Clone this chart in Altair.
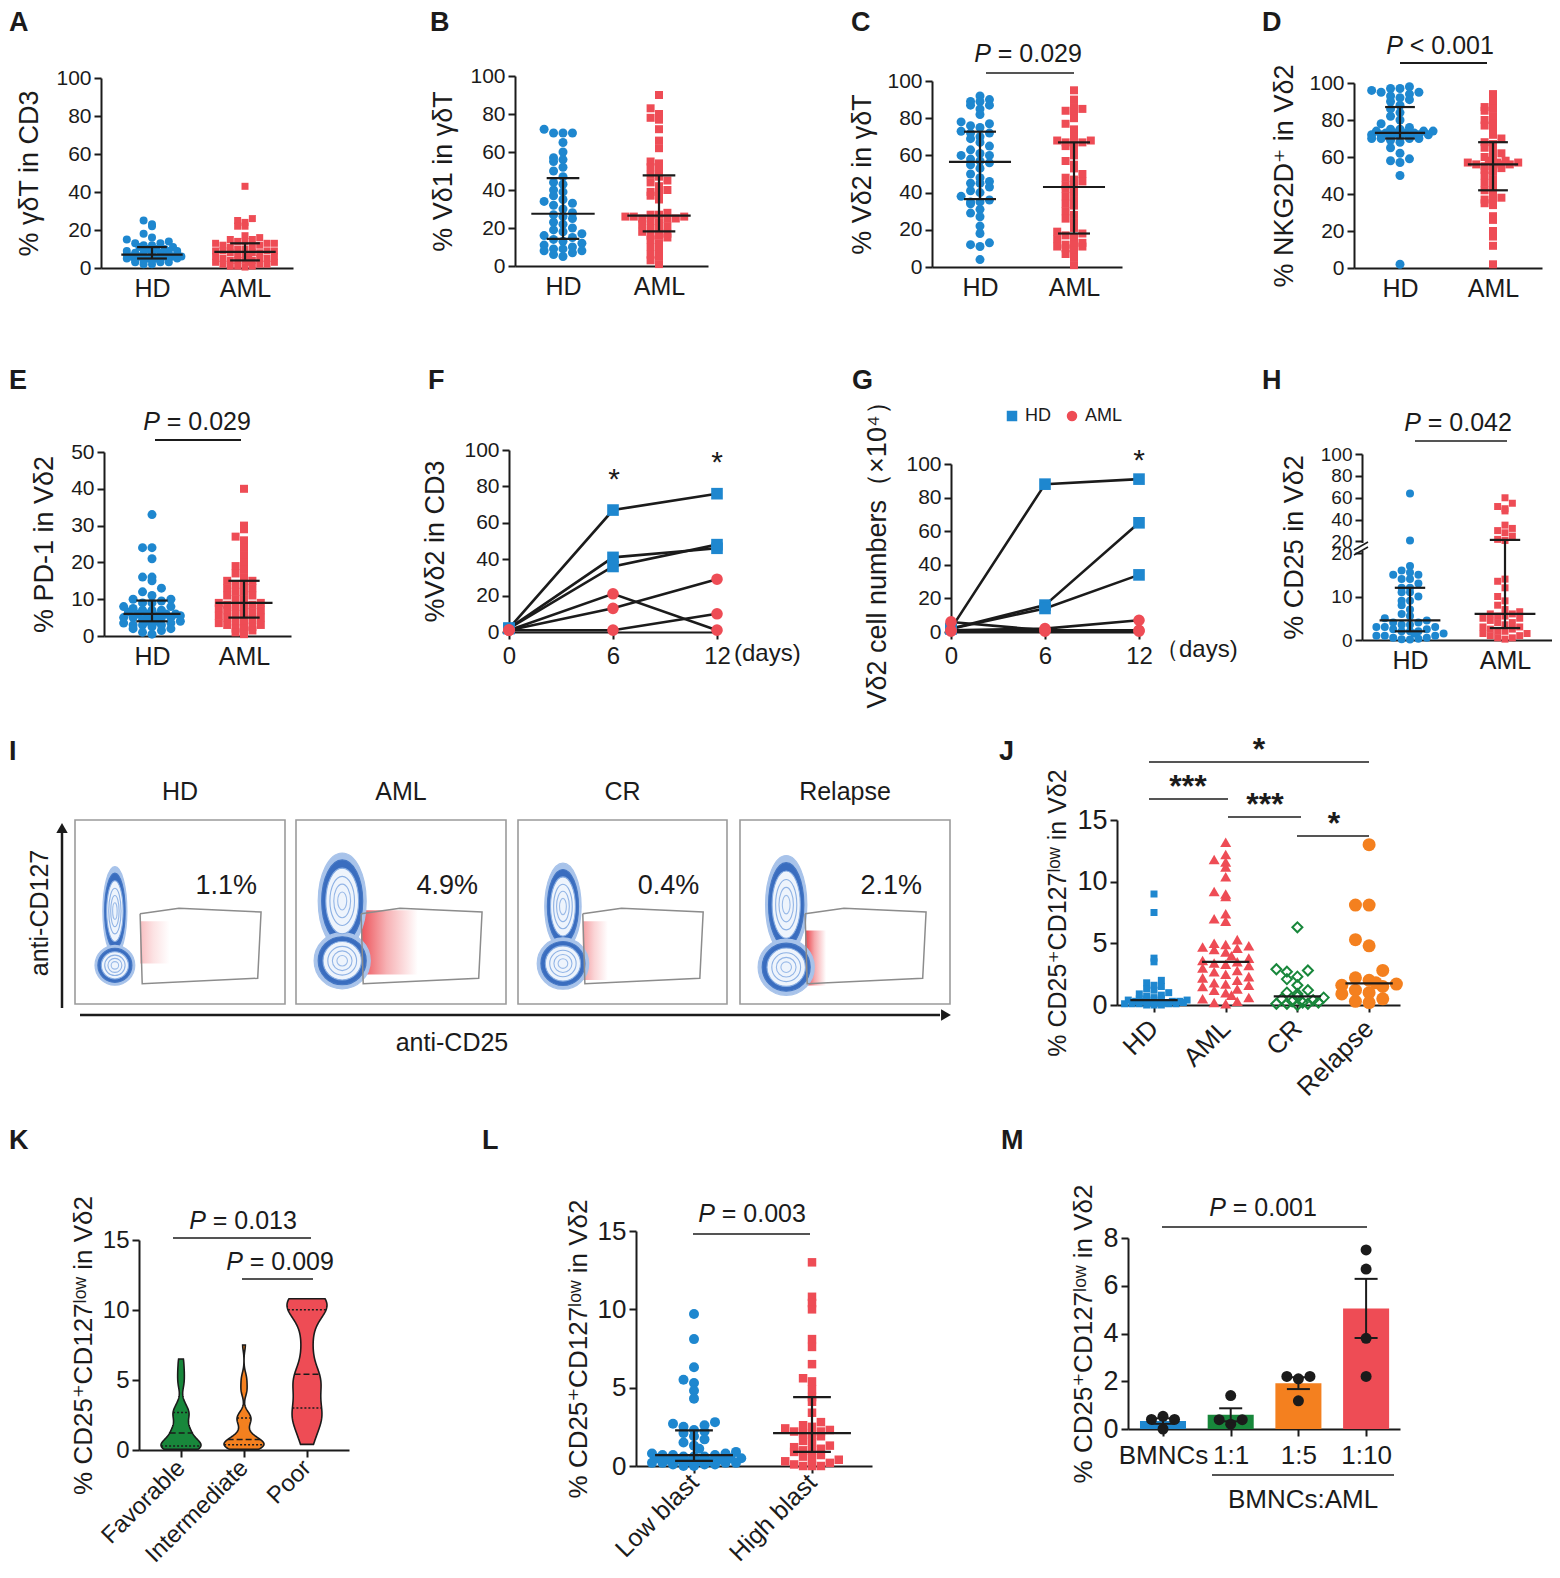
import altair as alt
import pandas as pd

# ======================= DATA =======================
CAT2 = ["HD", "AML"]

A_HD = [25, 23, 22, 18, 16, 15, 14, 13, 13, 12, 12, 11, 11, 10, 10, 10, 9, 9, 9, 8, 8, 8, 8,
        7, 7, 7, 7, 7, 7, 6, 6, 6, 6, 6, 5, 5, 5, 5, 5, 4, 4, 4, 4, 3, 3, 3, 2, 2]
A_AML = [43, 26, 25, 24, 22, 22, 17, 16, 15, 15, 14, 14, 13, 13, 13, 12, 12, 11, 11, 10, 10,
         9, 9, 9, 9, 8, 8, 8, 7, 7, 6, 6, 6, 5, 5, 5, 4, 4, 4, 4, 3, 3, 3, 2, 2, 2, 1, 1, 1, 0.5]

B_HD = [72, 70, 70, 70, 65, 60, 57, 56, 55, 52, 50, 47, 44, 43, 40, 39, 37, 35, 34, 33, 32, 30,
        28, 27, 26, 25, 23, 22, 20, 19, 18, 17, 16, 15, 14, 13, 12, 11, 10, 9, 9, 8, 8, 7, 6, 5]
B_AML = [90, 83, 80, 78, 77, 72, 66, 62, 55, 54, 52, 50, 48, 47, 45, 44, 42, 40, 39, 38, 37, 35,
         28, 27, 27, 26, 26, 26, 25, 25, 25, 24, 23, 22, 21, 20, 19, 18, 17, 16, 16, 15, 14, 12,
         10, 8, 6, 5, 3, 1]

C_HD = [92, 90, 89, 89, 87, 87, 85, 82, 78, 77, 76, 75, 73, 72, 72, 70, 69, 67, 65, 63, 61, 60,
        60, 58, 57, 56, 55, 53, 50, 48, 46, 45, 45, 43, 41, 40, 38, 36, 35, 35, 34, 31, 29, 27,
        22, 18, 13, 12, 11, 4]
C_AML = [95, 90, 86, 85, 84, 83, 80, 77, 74, 70, 68, 68, 67, 67, 66, 65, 62, 60, 57, 55, 53, 50,
         48, 47, 46, 44, 43, 42, 40, 38, 36, 34, 33, 30, 28, 26, 24, 21, 19, 18, 17, 16, 15, 13,
         12, 12, 11, 11, 10, 9, 7, 5, 1]

D_HD = [98, 97, 97, 96, 95, 95, 94, 93, 92, 91, 90, 88, 86, 84, 82, 80, 78, 76, 75, 75, 74, 74,
        74, 73, 73, 73, 73, 72, 72, 72, 72, 71, 71, 71, 70, 70, 70, 70, 69, 68, 65, 62, 59, 58,
        57, 50, 2]
D_AML = [94, 90, 87, 86, 85, 82, 80, 78, 77, 75, 72, 70, 68, 67, 65, 63, 62, 60, 59, 58, 58, 57,
         57, 57, 56, 56, 56, 55, 55, 54, 53, 52, 50, 48, 46, 44, 42, 40, 38, 37, 36, 35, 34, 28,
         26, 20, 17, 12, 2]

E_HD = [33, 24, 24, 21, 16, 16, 15, 13, 12, 11, 10, 10, 9.5, 9, 9, 8, 8, 7.5, 7, 7, 7, 6.5, 6, 6,
        6, 6, 5.5, 5.5, 5, 5, 5, 5, 4.5, 4.5, 4, 4, 4, 3.5, 3.5, 3, 3, 3, 2.5, 2, 2, 1.5, 1, 0.5]
E_AML = [40, 30, 29, 27, 26, 24, 22, 20, 19, 18, 17, 16, 15, 15, 14, 14, 13, 13, 12, 12, 11, 11,
         10, 10, 9, 9, 8.5, 8.5, 8, 8, 7.5, 7, 7, 6.5, 6, 6, 5.5, 5, 5, 4.5, 4, 4, 3.5, 3, 3, 2.5,
         2, 2, 1.5, 1, 0.5]

F_DAYS = [0, 6, 12]
F_HD = [[2, 67, 76], [2, 41, 46], [2, 36, 48]]
F_AML = [[1, 21, 1], [1, 13, 29], [1, 1, 10]]

G_DAYS = [0, 6, 12]
G_HD = [[2, 88, 91], [2, 16, 65], [2, 14, 34]]
G_AML = [[6, 1, 1], [1, 2, 7], [0.5, 0.5, 0.5]]

H_HD = [64, 21, 17, 16, 15.5, 15, 15, 14, 14, 13, 12, 12, 11, 11, 10, 9, 9, 8, 7, 6, 5.5, 5, 4.5,
        4, 4, 3.5, 3.5, 3, 3, 3, 2.5, 2.5, 2, 2, 2, 1.5, 1.5, 1, 1, 1, 0.5, 0.5, 0.3, 0.2, 0.1]
H_AML = [60, 55, 52, 50, 48, 35, 32, 30, 28, 25, 22, 21, 14, 13.5, 12, 10, 9, 8, 7, 6.5, 6, 6,
         5.5, 5.5, 5, 5, 4.5, 4, 4, 3.5, 3, 3, 2.5, 2.5, 2, 2, 1.5, 1.5, 1, 1, 0.5, 0.5, 0.2]

I_TITLES = ["HD", "AML", "CR", "Relapse"]
I_PCT = ["1.1%", "4.9%", "0.4%", "2.1%"]
# contour blob per sample (fractions of the plot box; lobe sizes in px)
BLOB_CX = [0.19, 0.22, 0.215, 0.22]
BLOB_UY = [0.495, 0.44, 0.47, 0.46]
BLOB_UH = [38, 41, 37, 42]
BLOB_ASP = [0.27, 0.5, 0.42, 0.42]
BLOB_LY = [0.79, 0.765, 0.78, 0.80]
BLOB_LR = [17, 24, 22, 24]
LEVEL_NAMES = ["halo", "dense", "c1", "c2", "c3", "c4"]
LEVEL_SCALE = [1.17, 1.0, 0.80, 0.60, 0.41, 0.22]
# CD25+ (red) event cloud per sample
RED_X1 = [0.31, 0.31, 0.31, 0.31]
RED_X2 = [0.45, 0.58, 0.43, 0.41]
RED_Y1 = [0.55, 0.49, 0.55, 0.60]
RED_Y2 = [0.78, 0.84, 0.87, 0.90]
RED_ALPHA = [0.30, 0.80, 0.45, 0.90]
# gate polygon
GATE_X = [0.31, 0.495, 0.886, 0.87, 0.32, 0.31]
GATE_Y = [0.51, 0.48, 0.50, 0.86, 0.89, 0.51]

J_CATS = ["HD", "AML", "CR", "Relapse"]
J_HD = [9, 7.5, 3.8, 3.5, 2, 1.8, 1.6, 1.5, 1.3, 1.2, 1, 0.9, 0.8, 0.7, 0.6, 0.5, 0.5, 0.5, 0.4,
        0.4, 0.4, 0.3, 0.3, 0.3, 0.3, 0.2, 0.2, 0.2, 0.2, 0.1, 0.1, 0.1, 0.1, 0.1, 0, 0, 0]
J_AML = [13.2, 12.2, 11.8, 11.6, 11.2, 10.4, 9.2, 9, 8.8, 7.4, 7, 6.8, 5.3, 5, 4.9, 4.8, 4.7, 4.6,
         4.5, 4.3, 4, 3.8, 3.6, 3.5, 3.4, 3.3, 3.2, 3, 2.8, 2.7, 2.5, 2.3, 2.2, 2, 1.8, 1.7, 1.6,
         1.5, 1.3, 1.2, 1, 0.8, 0.6, 0.5, 0.3, 0.2, 0.1]
J_CR = [6.3, 2.9, 2.8, 2.7, 2.3, 2.1, 1.6, 1.2, 1, 0.9, 0.7, 0.6, 0.5, 0.4, 0.3, 0.2, 0.2, 0.1,
        0.1, 0.1, 0]
J_REL = [13, 8.1, 8.1, 5.3, 4.8, 2.8, 2.2, 2, 1.8, 1.7, 1.6, 1.5, 1.2, 1, 0.9, 0.5, 0.3, 0.2]

K_CATS = ["Favorable", "Intermediate", "Poor"]
K_FAV = [6.5, 5.8, 5.2, 4.6, 3.4, 2.9, 2.7, 2.6, 2.4, 2.0, 1.6, 1.4, 1.3, 1.1, 0.9, 0.7, 0.5, 0.4,
         0.3, 0.3, 0.25, 0.2, 0.2, 0.15, 0.1, 0.05]
K_INT = [7.5, 5.3, 4.9, 4.4, 4.1, 2.6, 2.4, 2.3, 2.2, 2.1, 1.8, 1.4, 1.1, 0.9, 0.8, 0.7, 0.6, 0.6,
         0.5, 0.5, 0.4, 0.4, 0.35, 0.3, 0.3, 0.25, 0.2, 0.15, 0.1, 0.05]
K_POOR = [10.8, 10.7, 10.5, 10.3, 10.2, 9.6, 8.4, 7.0, 5.6, 5.2, 4.8, 4.2, 3.5, 2.8, 2.3, 2.2,
          1.4, 0.4]

L_CATS = ["Low blast", "High blast"]
L_LOW = [9.7, 8.1, 6.3, 5.5, 5.3, 4.8, 4.3, 2.8, 2.7, 2.6, 2.5, 2.3, 2.2, 2.1, 1.9, 1.7, 1.5, 1.3,
         1.1, 0.9, 0.8, 0.8, 0.7, 0.7, 0.7, 0.6, 0.6, 0.6, 0.5, 0.5, 0.5, 0.4, 0.4, 0.4, 0.3, 0.3,
         0.3, 0.2, 0.2, 0.2, 0.2, 0.1, 0.1, 0.1, 0, 0]
L_HIGH = [13, 10.8, 10.4, 10, 8.1, 7.6, 6.5, 5.6, 5.4, 4.9, 4.4, 4.1, 3.4, 2.8, 2.6, 2.5, 2.4,
          2.3, 2.2, 2.2, 2.1, 2, 1.9, 1.6, 1.5, 1.3, 1.2, 1.1, 1, 1, 0.9, 0.7, 0.6, 0.5, 0.4, 0.3,
          0.2, 0.1, 0, 0, 0]

M_CATS = ["BMNCs", "1:1", "1:5", "1:10"]
M_VALS = [[0.4, 0.53, 0.4, 0.0], [0.2, 0.39, 0.39, 1.4], [2.2, 2.2, 2.1, 1.18], [7.5, 6.7, 3.8, 2.2]]

T_CD25 = "% CD25⁺CD127ˡᵒʷ in Vδ2"

# ======================= STYLE / LAYOUT =======================
W, H = 1544, 1562
OFF = 8


def cx(v):
    return v - OFF


def cy(v):
    return v - OFF


REG = "Liberation Sans, Arial, Helvetica, DejaVu Sans, sans-serif"
INK = "#1b1b1b"
BLUE = "#1e87cf"
RED = "#ee4c55"
GREEN = "#18873b"
ORANGE = "#f4801f"

ONE = pd.DataFrame({"t": [""]})


def lin(dom, rng):
    return alt.Scale(domain=dom, range=rng, nice=False, zero=False)


def text(s, x, y, size, font=REG, align="center", baseline="middle", weight="normal",
         style="normal", angle=0, color=INK):
    return alt.Chart(pd.DataFrame({"t": [s]})).mark_text(
        align=align, baseline=baseline, font=font, fontSize=size, fontWeight=weight,
        fontStyle=style, angle=angle, color=color
    ).encode(text="t:N", x=alt.value(cx(x)), y=alt.value(cy(y)))


def seg(x1, y1, x2, y2, color=INK, width=2):
    return alt.Chart(ONE).mark_rule(color=color, strokeWidth=width).encode(
        x=alt.value(cx(x1)), y=alt.value(cy(y1)), x2=alt.value(cx(x2)), y2=alt.value(cy(y2)))


CHW = {" ": 0.278, "=": 0.584, "<": 0.584, ".": 0.278}


def pvalue(rest, x, y, size, font=REG):
    pw = 0.667 * size
    gap = 0.278 * size
    rw = sum(CHW.get(c, 0.556) for c in rest) * size
    x0 = x - (pw + gap + rw) / 2
    return [text("P", x0, y, size, font, align="left", style="italic"),
            text(rest, x0 + pw + gap, y, size, font, align="left")]


def yaxis(xref, title, values, tsize, hsize, pad=10, expr=None, ticks=True):
    kw = dict(orient="left", offset=-cx(xref), values=values, title=title, grid=False,
              labelFont=REG, labelFontSize=tsize, labelColor=INK, labelPadding=3,
              titleFont=REG, titleFontSize=hsize, titleFontWeight="normal", titleColor=INK,
              titlePadding=pad, titleLimit=3000, labelLimit=1000,
              domainColor=INK, domainWidth=2, ticks=ticks, tickColor=INK, tickWidth=2,
              tickSize=7, labelOverlap=False, labelFlush=False)
    if expr:
        kw["labelExpr"] = expr
    return alt.Axis(**kw)


def xaxis(yref, values, labels, size, angle=0, ticks=False, pad=8, numeric=False):
    kw = dict(orient="bottom", offset=cy(yref) - H, values=values, title=None, grid=False,
              labelFont=REG, labelFontSize=size, labelColor=INK, labelPadding=pad,
              labelAngle=angle, domainColor=INK, domainWidth=2, ticks=ticks, tickColor=INK,
              tickWidth=2, tickSize=7, labelOverlap=False, labelFlush=False, labelLimit=1000)
    if angle != 0:
        kw["labelAlign"] = "right"
        kw["labelBaseline"] = "middle"
    if not numeric:
        kw["labelExpr"] = "[" + ",".join("'" + s + "'" for s in labels) + "][datum.value]"
    return alt.Axis(**kw)


def make_df(names, lists):
    rows = []
    for i, (n, vals) in enumerate(zip(names, lists)):
        for v in vals:
            rows.append({"g": i, "grp": n, "v": float(v)})
    return pd.DataFrame(rows)


def swarm(df, gi, xs, ys, xax, yax, style, sp, pxu, half, binexpr=None):
    shape, color, dpx, filled = style
    step = dpx * 1.05 / sp
    maxn = 2 * max(1, int(half / step)) + 1
    be = binexpr or f"floor(datum.v / {dpx * 0.9 / pxu})"
    ch = (alt.Chart(df)
          .transform_filter(f"datum.g == {gi}")
          .transform_calculate(b=be)
          .transform_window(k="row_number()", groupby=["b"],
                            sort=[alt.SortField("v", order="ascending")])
          .transform_calculate(j=f"(datum.k - 1) % {maxn} + 1",
                               r=f"floor((datum.k - 1) / {maxn})")
          .transform_calculate(
              xp=f"datum.g + (datum.j % 2 == 0 ? -1 : 1) * floor(datum.j / 2) * {step}"
                 f" + (datum.r % 2) * {step / 2}"))
    if filled:
        m = ch.mark_point(shape=shape, filled=True, fill=color, size=dpx * dpx, opacity=1,
                          strokeWidth=0)
    else:
        m = ch.mark_point(shape=shape, filled=False, stroke=color, size=dpx * dpx, opacity=1,
                          strokeWidth=2)
    return m.encode(x=alt.X("xp:Q", scale=xs, axis=xax), y=alt.Y("v:Q", scale=ys, axis=yax))


def summary(df, xs, ys, xax, yax, med_hw, cap_hw, iqr=True, lw=2.2):
    agg = (alt.Chart(df)
           .transform_aggregate(med="median(v)", q1="q1(v)", q3="q3(v)", groupby=["g"])
           .transform_calculate(ml=f"datum.g - {med_hw}", mr=f"datum.g + {med_hw}",
                                cl=f"datum.g - {cap_hw}", cr=f"datum.g + {cap_hw}"))

    def r():
        return agg.mark_rule(color=INK, strokeWidth=lw)
    out = [r().encode(x=alt.X("ml:Q", scale=xs, axis=xax), x2="mr:Q",
                      y=alt.Y("med:Q", scale=ys, axis=yax))]
    if iqr:
        out.append(r().encode(x=alt.X("g:Q", scale=xs, axis=xax),
                              y=alt.Y("q1:Q", scale=ys, axis=yax), y2="q3:Q"))
        out.append(r().encode(x=alt.X("cl:Q", scale=xs, axis=xax), x2="cr:Q",
                              y=alt.Y("q1:Q", scale=ys, axis=yax)))
        out.append(r().encode(x=alt.X("cl:Q", scale=xs, axis=xax), x2="cr:Q",
                              y=alt.Y("q3:Q", scale=ys, axis=yax)))
    return out


def dot_panel(cats, lists, styles, ax, end, c0, sp, ys, pxu, xax, yax, med_hw, cap_hw,
              iqr=True, half=0.36, binexprs=None):
    df = make_df(cats, lists)
    xs = lin([-(c0 - ax) / sp, (end - c0) / sp], [cx(ax), cx(end)])
    layers = []
    for gi, st in enumerate(styles):
        be = binexprs[gi] if binexprs else None
        layers.append(swarm(df, gi, xs, ys, xax, yax, st, sp, pxu, half, be))
    layers += summary(df, xs, ys, xax, yax, med_hw, cap_hw, iqr)
    return alt.layer(*layers)


children = []

# ---------- panel letters ----------
for letter, lx, ly in [("A", 9, 23), ("B", 430, 23), ("C", 851, 23), ("D", 1262, 23),
                       ("E", 9, 381), ("F", 428, 381), ("G", 852, 381), ("H", 1262, 381),
                       ("I", 9, 752), ("J", 999, 752), ("K", 9, 1141), ("L", 482, 1141),
                       ("M", 1001, 1141)]:
    children.append(text(letter, lx, ly, 27, REG, align="left", weight="bold"))

TOP_STY = [("circle", BLUE, 9, True), ("square", RED, 8, True)]
Y100 = [0, 20, 40, 60, 80, 100]
TK, TT, TC, TP = 21, 27, 25, 25   # tick, title, category, p-value font sizes (rows 1-2)

# ---------- A ----------
ysA = lin([0, 100], [cy(268), cy(78)])
children.append(dot_panel(
    CAT2, [A_HD, A_AML], [("circle", BLUE, 8, True), ("square", RED, 7, True)],
    ax=101, end=293, c0=152, sp=93, ys=ysA, pxu=1.9,
    xax=xaxis(268, [0, 1], CAT2, TC), yax=yaxis(101, "% γδT in CD3", Y100, TK, TT, pad=12),
    med_hw=0.33, cap_hw=0.16))

# ---------- B ----------
ysB = lin([0, 100], [cy(266), cy(76)])
children.append(dot_panel(
    CAT2, [B_HD, B_AML], TOP_STY, ax=515, end=708, c0=563, sp=96, ys=ysB, pxu=1.9,
    xax=xaxis(266, [0, 1], CAT2, TC), yax=yaxis(515, "% Vδ1 in γδT", Y100, TK, TT, pad=12),
    med_hw=0.33, cap_hw=0.17))

# ---------- C ----------
ysC = lin([0, 100], [cy(267), cy(81)])
children.append(dot_panel(
    CAT2, [C_HD, C_AML], TOP_STY, ax=932, end=1122, c0=980, sp=94, ys=ysC, pxu=1.86,
    xax=xaxis(267, [0, 1], CAT2, TC), yax=yaxis(932, "% Vδ2 in γδT", Y100, TK, TT, pad=10),
    med_hw=0.33, cap_hw=0.17))
children += pvalue("= 0.029", 1028, 54, TP)
children.append(seg(986, 73, 1074, 73, "#555", 2))

# ---------- D ----------
ysD = lin([0, 100], [cy(268), cy(83)])
children.append(dot_panel(
    CAT2, [D_HD, D_AML], TOP_STY, ax=1354, end=1542, c0=1400, sp=93, ys=ysD, pxu=1.85,
    xax=xaxis(268, [0, 1], CAT2, TC), yax=yaxis(1354, "% NKG2D⁺ in Vδ2", Y100, TK, TT, pad=10),
    med_hw=0.27, cap_hw=0.16))
children += pvalue("< 0.001", 1440, 46, TP)
children.append(seg(1400, 63, 1487, 63, INK, 2))

# ---------- E ----------
ysE = lin([0, 50], [cy(636), cy(452)])
children.append(dot_panel(
    CAT2, [E_HD, E_AML], TOP_STY, ax=104, end=291, c0=152, sp=92, ys=ysE, pxu=3.7,
    xax=xaxis(636, [0, 1], CAT2, TC), yax=yaxis(104, "% PD-1 in Vδ2", [0, 10, 20, 30, 40, 50], TK, TT, pad=12),
    med_hw=0.31, cap_hw=0.17))
children += pvalue("= 0.029", 197, 422, TP)
children.append(seg(155, 440, 241, 440, INK, 2))


# ---------- F / G (time courses) ----------
def line_panel(days, hd, aml, ax, x12, y0, ytop, title, legend=None, tpad=10):
    rows = []
    for gname, sets in (("HD", hd), ("AML", aml)):
        for si, vals in enumerate(sets):
            for d, v in zip(days, vals):
                rows.append({"sid": f"{gname}{si}", "grp": gname, "day": d, "v": v})
    df = pd.DataFrame(rows)
    xs = lin([0, 12], [cx(ax), cx(x12)])
    ys = lin([0, 100], [cy(y0), cy(ytop)])
    xax = xaxis(y0, [0, 6, 12], None, 24, ticks=True, pad=5, numeric=True)
    yax = yaxis(ax, title, Y100, TK, TT, pad=tpad)
    ln = alt.Chart(df).mark_line(color=INK, strokeWidth=2.6).encode(
        x=alt.X("day:Q", scale=xs, axis=xax), y=alt.Y("v:Q", scale=ys, axis=yax), detail="sid:N")
    pts = alt.Chart(df).mark_point(filled=True, size=135, opacity=1, strokeWidth=0).encode(
        x=alt.X("day:Q", scale=xs, axis=xax), y=alt.Y("v:Q", scale=ys, axis=yax),
        color=alt.Color("grp:N", scale=alt.Scale(domain=CAT2, range=[BLUE, RED]), legend=legend),
        shape=alt.Shape("grp:N", scale=alt.Scale(domain=CAT2, range=["square", "circle"]), legend=legend))
    return alt.layer(ln, pts)


children.append(line_panel(F_DAYS, F_HD, F_AML, 509, 717, 632, 450, "%Vδ2 in CD3", tpad=14))
children.append(text("*", 614, 480, 30))
children.append(text("*", 717, 463, 30))
children.append(text("(days)", 734, 654, 24, align="left"))

legG = alt.Legend(orient="none", legendX=cx(1003), legendY=cy(407), direction="horizontal",
                  title=None, labelFont=REG, labelFontSize=18, labelColor=INK, symbolSize=110,
                  symbolStrokeWidth=0, columnPadding=12)
children.append(line_panel(G_DAYS, G_HD, G_AML, 951, 1139, 632, 464, "Vδ2 cell numbers（×10⁴）", legG, tpad=14))
children.append(text("*", 1139, 461, 30))
children.append(text("（days)", 1155, 650, 24, align="left"))

# ---------- H (broken axis) ----------
ysH = alt.Scale(domain=[0, 20, 20.5, 100], range=[cy(640), cy(553), cy(541), cy(454)],
                nice=False, zero=False)
H_BIN = ["datum.v <= 20 ? floor(datum.v / 1.7) : 100 + floor(datum.v / 7)"] * 2
children.append(dot_panel(
    CAT2, [H_HD, H_AML], [("circle", BLUE, 8, True), ("square", RED, 7, True)],
    ax=1362, end=1552, c0=1410, sp=95, ys=ysH, pxu=4.3,
    xax=xaxis(640, [0, 1], CAT2, TC),
    yax=yaxis(1362, "% CD25 in  Vδ2", [0, 10, 20, 20.5, 40, 60, 80, 100], 19, TT, pad=12,
              expr="datum.value == 20.5 ? '20' : datum.label"),
    med_hw=0.32, cap_hw=0.16, binexprs=H_BIN))
children.append(seg(1362, 543, 1362, 551, "white", 5))
children.append(seg(1354, 550, 1368, 542, INK, 1.5))
children.append(seg(1354, 555, 1368, 547, INK, 1.5))
children += pvalue("= 0.042", 1458, 423, TP)
children.append(seg(1415, 441, 1507, 441, "#555", 2))

# ---------- I (flow cytometry plots) ----------
BOX_L = [75, 296, 518, 740]
BOX_R = [285, 506, 727, 950]
BOX_T, BOX_B = 820, 1004
LV_FILL = ["#a8c3ea", "#3a6dbf", "#eef4fc", "transparent", "transparent", "transparent"]
LV_STROKE = ["#a8c3ea", "#4577c4", "#86ace2", "#8db1e4", "#93b5e6", "#9bbbe8"]


def ellipse_path(a):
    return f"M0,-1A{a},1,0,1,1,0,1A{a},1,0,1,1,0,-1Z"


for b in range(4):
    L, R = BOX_L[b], BOX_R[b]
    xs = lin([0, 1], [cx(L), cx(R)])
    ys = lin([0, 1], [cy(BOX_T), cy(BOX_B)])
    frame = alt.Chart(ONE).mark_rect(fill="white", stroke="#9b9b9b", strokeWidth=1.6).encode(
        x=alt.XDatum(0, scale=xs, axis=None), x2=alt.X2Datum(1),
        y=alt.YDatum(0, scale=ys, axis=None), y2=alt.Y2Datum(1))
    grad = alt.LinearGradient(
        gradient="linear", x1=0, x2=1, y1=0, y2=0,
        stops=[alt.GradientStop(color=f"rgba(232,40,48,{RED_ALPHA[b]})", offset=0),
               alt.GradientStop(color=f"rgba(232,40,48,{RED_ALPHA[b] * 0.45})", offset=0.45),
               alt.GradientStop(color="rgba(232,40,48,0)", offset=1)])
    cloud = alt.Chart(ONE).mark_rect(fill=grad).encode(
        x=alt.XDatum(RED_X1[b], scale=xs, axis=None), x2=alt.X2Datum(RED_X2[b]),
        y=alt.YDatum(RED_Y1[b], scale=ys, axis=None), y2=alt.Y2Datum(RED_Y2[b]))
    up_rows, lo_rows = [], []
    for o, (lv, s) in enumerate(zip(LEVEL_NAMES, LEVEL_SCALE)):
        up_rows.append({"o": o, "lvl": lv, "x": BLOB_CX[b], "y": BLOB_UY[b],
                        "sz": (2 * BLOB_UH[b] * s) ** 2})
        lo_rows.append({"o": o, "lvl": lv, "x": BLOB_CX[b], "y": BLOB_LY[b],
                        "sz": (2 * BLOB_LR[b] * s) ** 2})
    enc = dict(x=alt.X("x:Q", scale=xs, axis=None), y=alt.Y("y:Q", scale=ys, axis=None),
               size=alt.Size("sz:Q", scale=None),
               fill=alt.Fill("lvl:N", scale=alt.Scale(domain=LEVEL_NAMES, range=LV_FILL), legend=None),
               stroke=alt.Stroke("lvl:N", scale=alt.Scale(domain=LEVEL_NAMES, range=LV_STROKE), legend=None),
               order=alt.Order("o:Q"))
    dfu, dfl = pd.DataFrame(up_rows), pd.DataFrame(lo_rows)
    up_dense = alt.Chart(dfu).transform_filter("datum.o <= 1").mark_point(
        shape=ellipse_path(BLOB_ASP[b]), filled=True, opacity=1, strokeWidth=1.2).encode(**enc)
    lo_dense = alt.Chart(dfl).transform_filter("datum.o <= 1").mark_point(
        shape="circle", filled=True, opacity=1, strokeWidth=1.2).encode(**enc)
    up_rings = alt.Chart(dfu).transform_filter("datum.o >= 2").mark_point(
        shape=ellipse_path(BLOB_ASP[b]), filled=True, opacity=1, strokeWidth=1.1).encode(**enc)
    lo_rings = alt.Chart(dfl).transform_filter("datum.o >= 2").mark_point(
        shape="circle", filled=True, opacity=1, strokeWidth=1.1).encode(**enc)
    gate = alt.Chart(pd.DataFrame({"i": list(range(len(GATE_X))), "gx": GATE_X, "gy": GATE_Y})).mark_line(
        color="#8c8c8c", strokeWidth=1.5).encode(
        x=alt.X("gx:Q", scale=xs, axis=None), y=alt.Y("gy:Q", scale=ys, axis=None), order="i:Q")
    children.append(alt.layer(frame, cloud, up_dense, lo_dense, up_rings, lo_rings, gate))
    children.append(text(I_PCT[b], L + 0.72 * (R - L), BOX_T + 0.36 * (BOX_B - BOX_T), 27, REG))
    children.append(text(I_TITLES[b], (L + R) / 2, 792, 25, REG))

children.append(seg(62, 1008, 62, 832, INK, 2.5))
children.append(alt.Chart(ONE).mark_point(shape="triangle-up", filled=True, color=INK, size=130, opacity=1).encode(
    x=alt.value(cx(62)), y=alt.value(cy(828))))
children.append(seg(80, 1015, 940, 1015, INK, 2.5))
children.append(alt.Chart(ONE).mark_point(shape="triangle-right", filled=True, color=INK, size=130, opacity=1).encode(
    x=alt.value(cx(946)), y=alt.value(cy(1015))))
children.append(text("anti-CD127", 40, 913, 25, REG, angle=270))
children.append(text("anti-CD25", 452, 1043, 25, REG))

# ---------- J ----------
ysJ = lin([0, 15], [cy(1005), cy(820)])
children.append(dot_panel(
    J_CATS, [J_HD, J_AML, J_CR, J_REL],
    [("square", BLUE, 7, True), ("triangle-up", RED, 11, True), ("diamond", GREEN, 10, False),
     ("circle", ORANGE, 13, True)],
    ax=1117, end=1400, c0=1154, sp=71.7, ys=ysJ, pxu=12.3,
    xax=xaxis(1005, [0, 1, 2, 3], J_CATS, 26, angle=-45, ticks=True, pad=12),
    yax=yaxis(1117, T_CD25, [0, 5, 10, 15], 27, 25, pad=6),
    med_hw=0.33, cap_hw=0.15, iqr=False, half=0.42))
children.append(text("*", 1259, 750, 32, REG, weight="bold"))
children.append(seg(1149, 762, 1369, 762, "#555", 1.8))
children.append(text("***", 1188, 787, 32, REG, weight="bold"))
children.append(seg(1149, 799, 1228, 799, "#555", 1.8))
children.append(text("***", 1265, 805, 32, REG, weight="bold"))
children.append(seg(1228, 817, 1301, 817, "#555", 1.8))
children.append(text("*", 1334, 824, 32, REG, weight="bold"))
children.append(seg(1297, 836, 1369, 836, "#555", 1.8))

# ---------- K (violins) ----------
dfK = make_df(K_CATS, [K_FAV, K_INT, K_POOR])
xsK = lin([-(181 - 139) / 63, (349 - 181) / 63], [cx(139), cx(349)])
ysK = lin([0, 15], [cy(1450), cy(1240)])
yaxK = yaxis(139, T_CD25, [0, 5, 10, 15], 24, 26, pad=6)
xaxK = xaxis(1450, [0, 1, 2], K_CATS, 24, angle=-45, ticks=True, pad=7)
hwK = 20 / 63
k_layers = []
for gi, (vals, col, bw) in enumerate(zip([K_FAV, K_INT, K_POOR], [GREEN, ORANGE, RED], [0.45, 0.4, 0.9])):
    base = (alt.Chart(dfK).transform_filter(f"datum.g == {gi}")
            .transform_joinaggregate(q1="q1(v)", med="median(v)", q3="q3(v)")
            .transform_density("v", as_=["v", "d"], extent=[min(vals), max(vals)], bandwidth=bw,
                               steps=160, groupby=["q1", "med", "q3"])
            .transform_joinaggregate(dm="max(d)")
            .transform_calculate(xl=f"{gi} - datum.d / datum.dm * {hwK}",
                                 xr=f"{gi} + datum.d / datum.dm * {hwK}"))
    k_layers.append(base.mark_area(orient="horizontal", fill=col, stroke=INK, strokeWidth=1.6,
                                   opacity=1).encode(
        y=alt.Y("v:Q", scale=ysK, axis=yaxK), x=alt.X("xl:Q", scale=xsK, axis=xaxK), x2="xr:Q"))
    for q, dash in (("q1", [2, 2]), ("med", [6, 3]), ("q3", [2, 2])):
        k_layers.append(base.transform_calculate(dd=f"abs(datum.v - datum.{q})")
                        .transform_window(rk="row_number()", sort=[alt.SortField("dd")])
                        .transform_filter("datum.rk == 1")
                        .mark_rule(color=INK, strokeWidth=1.5, strokeDash=dash)
                        .encode(x=alt.X("xl:Q", scale=xsK, axis=xaxK), x2="xr:Q",
                                y=alt.Y("v:Q", scale=ysK, axis=yaxK)))
children.append(alt.layer(*k_layers))
children += pvalue("= 0.013", 243, 1221, 25, REG)
children.append(seg(173, 1238, 311, 1238, INK, 1.6))
children += pvalue("= 0.009", 280, 1262, 25, REG)
children.append(seg(242, 1279, 313, 1279, INK, 1.6))

# ---------- L ----------
ysL = lin([0, 15], [cy(1466), cy(1231)])
children.append(dot_panel(
    L_CATS, [L_LOW, L_HIGH], [("circle", BLUE, 10, True), ("square", RED, 8.5, True)],
    ax=636, end=872, c0=694, sp=118, ys=ysL, pxu=15.7,
    xax=xaxis(1466, [0, 1], L_CATS, 25, angle=-45, ticks=True, pad=5),
    yax=yaxis(636, T_CD25, [0, 5, 10, 15], 26, 26, pad=6),
    med_hw=0.33, cap_hw=0.16, half=0.38))
children += pvalue("= 0.003", 752, 1214, 25, REG)
children.append(seg(693, 1234, 810, 1234, INK, 1.6))

# ---------- M (bars) ----------
dfM = make_df(M_CATS, M_VALS)
spM = 67.7
xsM = lin([-(1163 - 1128) / spM, (1400 - 1163) / spM], [cx(1128), cx(1400)])
ysM = lin([0, 8], [cy(1429), cy(1238)])
yaxM = yaxis(1128, T_CD25, [0, 2, 4, 6, 8], 27, 26, pad=6)
xaxM = xaxis(1429, [0, 1, 2, 3], M_CATS, 26, ticks=True, pad=6)
aggM = (alt.Chart(dfM)
        .transform_aggregate(m="mean(v)", se="stderr(v)", groupby=["g", "grp"])
        .transform_calculate(lo="datum.m - datum.se", hi="datum.m + datum.se",
                             bl="datum.g - 0.34", br="datum.g + 0.34",
                             cl="datum.g - 0.17", cr="datum.g + 0.17"))
barsM = aggM.mark_rect(opacity=1).encode(
    x=alt.X("bl:Q", scale=xsM, axis=xaxM), x2="br:Q",
    y=alt.Y("m:Q", scale=ysM, axis=yaxM), y2=alt.Y2Datum(0),
    color=alt.Color("grp:N", scale=alt.Scale(domain=M_CATS, range=[BLUE, GREEN, ORANGE, RED]),
                    legend=None))
m_layers = [barsM]
for gi in range(4):
    m_layers.append(swarm(dfM, gi, xsM, ysM, xaxM, yaxM, ("circle", INK, 11, True), spM, 23.9, 0.4))
m_layers += [
    aggM.mark_rule(color=INK, strokeWidth=2).encode(x=alt.X("g:Q", scale=xsM, axis=xaxM),
                                                   y=alt.Y("lo:Q", scale=ysM, axis=yaxM), y2="hi:Q"),
    aggM.mark_rule(color=INK, strokeWidth=2).encode(x=alt.X("cl:Q", scale=xsM, axis=xaxM), x2="cr:Q",
                                                   y=alt.Y("lo:Q", scale=ysM, axis=yaxM)),
    aggM.mark_rule(color=INK, strokeWidth=2).encode(x=alt.X("cl:Q", scale=xsM, axis=xaxM), x2="cr:Q",
                                                   y=alt.Y("hi:Q", scale=ysM, axis=yaxM)),
]
children.append(alt.layer(*m_layers))
children += pvalue("= 0.001", 1263, 1208, 25, REG)
children.append(seg(1162, 1227, 1367, 1227, INK, 1.6))
children.append(seg(1212, 1475, 1394, 1475, INK, 1.6))
children.append(text("BMNCs:AML", 1303, 1500, 26, REG))

chart = (alt.layer(*children)
         .resolve_scale(x="independent", y="independent", color="independent",
                        shape="independent", fill="independent", stroke="independent",
                        size="independent")
         .resolve_axis(x="independent", y="independent")
         .resolve_legend(color="independent", shape="independent", fill="independent",
                         stroke="independent", size="independent")
         .properties(width=W, height=H, autosize=alt.AutoSizeParams(type="none"), padding=0)
         .configure_view(stroke=None))

chart.save("out.html", embed_options={"renderer": "svg", "actions": False})
